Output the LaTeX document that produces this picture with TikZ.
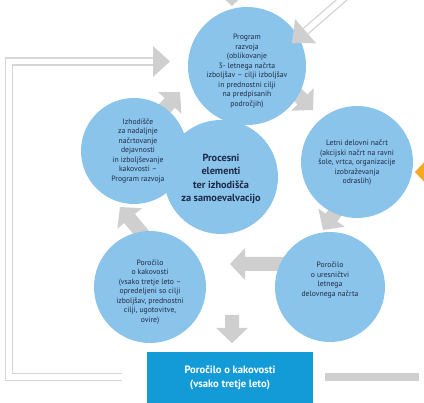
\documentclass[tikz,border=0pt]{standalone}
\usepackage{fontspec}
\setmainfont{PT Sans}
\usetikzlibrary{calc}
\definecolor{circfill}{HTML}{8BC4EA}
\definecolor{navy}{HTML}{1C2A48}
\definecolor{boxblue}{HTML}{139BD8}
\definecolor{agray}{HTML}{CFCFCF}
\definecolor{lgray}{HTML}{D6D6D6}
\definecolor{orng}{HTML}{F7A823}
% block arrow from #2 (start) to #3 (tip)
\newcommand\blkarrow[3][agray]{%
  \coordinate (#3-b) at ($(#3)!15pt!(#2)$);
  \fill[#1] ($(#2)!7pt!90:(#3)$) -- ($(#3-b)!7pt!-90:(#2)$) -- ($(#3-b)!16pt!-90:(#2)$) -- (#3)
    -- ($(#3-b)!16pt!90:(#2)$) -- ($(#3-b)!7pt!90:(#2)$) -- ($(#2)!7pt!-90:(#3)$) -- cycle;
}
\begin{document}
\begin{tikzpicture}[x=1pt,y=-1pt,
  bubble/.style={circle, fill=circfill, inner sep=0pt},
  smalltext/.style={align=center, text=navy, inner sep=0pt, font=\fontsize{7.7}{9.5}\selectfont},
  bigtext/.style={align=center, text=navy, inner sep=0pt, font=\fontsize{10.3}{13.3}\selectfont\bfseries},
  dbl/.style={draw=lgray, line width=1.4pt, double=white, double distance=5.6pt}
]
\useasboundingbox (0,0) rectangle (424,403);
\clip (0,0) rectangle (424,403);

% block arrow end points
\coordinate (a1s) at (152,122); \coordinate (a1t) at (180,92);
\coordinate (a2s) at (285,82);  \coordinate (a2t) at (313,110);
\coordinate (a3s) at (345,198); \coordinate (a3t) at (323,230);
\coordinate (a4s) at (290,264); \coordinate (a4t) at (230,264);
\coordinate (a5s) at (150,243); \coordinate (a5t) at (120,207);
\coordinate (a6s) at (232,315); \coordinate (a6t) at (232,343);
\coordinate (a7s) at (232,-40); \coordinate (a7t) at (232,6);
\coordinate (a8s) at (470,172); \coordinate (a8t) at (415,172);

\blkarrow{a1s}{a1t}
\blkarrow{a2s}{a2t}
\blkarrow{a3s}{a3t}
\blkarrow{a4s}{a4t}
\blkarrow{a5s}{a5t}
\blkarrow{a6s}{a6t}
\blkarrow{a7s}{a7t}
\blkarrow[orng]{a8s}{a8t}

% circles
\node[bubble, minimum size=118pt] (top) at (247,66) {};
\node[bubble, minimum size=112pt] (right) at (357,162) {};
\node[bubble, minimum size=110pt] (bright) at (330,287) {};
\node[bubble, minimum size=112pt] (bleft) at (150,287) {};
\node[bubble, minimum size=106pt] (left) at (134,151) {};
\node[bubble, minimum size=114pt] (center) at (221,177) {};

\node[smalltext] (toptxt) at ($(top)+(0,5)$) {Program\\razvoja\\(oblikovanje\\3- letnega načrta\\izboljšav – cilji izboljšav\\in prednostni cilji\\na predpisanih\\področjih)};
\node[smalltext] (righttxt) at ($(right)+(0,1)$) {Letni delovni načrt\\(akcijski načrt na ravni\\šole, vrtca, organizacije\\izobraževanja\\odraslih)};
\node[smalltext] (brighttxt) at ($(bright)+(0,-7)$) {Poročilo\\o uresničtvi\\letnega\\delovnega načrta};
\node[smalltext] (blefttxt) at ($(bleft)+(0,5)$) {Poročilo\\o kakovosti\\(vsako tretje leto –\\opredeljeni so cilji\\izboljšav, prednostni\\cilji, ugotovitve,\\ovire)};
\node[smalltext] (lefttxt) at ($(left)+(4,0)$) {Izhodišče\\za nadaljnje\\načrtovanje\\dejavnosti\\in izboljševanje\\kakovosti –\\Program razvoja};
\node[bigtext] (centertxt) at ($(center)+(0,2)$) {Procesni\\elementi\\ter izhodišča\\za samoevalvacijo};

% report box
\node[rectangle, fill=boxblue, minimum width=166pt, minimum height=52pt, inner sep=0pt,
  align=center, text=white, font=\fontsize{10.6}{14.5}\selectfont\bfseries] (box) at (230,378)
  {Poročilo o kakovosti\\(vsako tretje leto)};

% bar to the right
\coordinate (barend) at (419,377);
\draw[agray, line width=8pt] ($(box.east)+(12,-1)$) -- (barend);

% feedback loop (double line)
\coordinate (loopstart) at ($(box.west)+(-25,-1)$);
\coordinate (loopcorner) at (9,61.5);
\coordinate (loopend) at (153,61.5);
\coordinate (looptip) at (170,61.5);
\draw[dbl] (loopstart) -| (loopcorner) -- (loopend);
\fill[agray] ($(loopend)+(0,-15.5)$) -- (looptip) -- ($(loopend)+(0,15.5)$) -- cycle;

% incoming double arrow top right
\coordinate (trs) at (345,-3);
\coordinate (trt) at (292,43);
\coordinate (trb) at ($(trt)!18pt!(trs)$);
\draw[dbl] (trs) -- (trb);
\fill[agray] ($(trb)!16pt!90:(trt)$) -- (trt) -- ($(trb)!16pt!-90:(trt)$) -- cycle;
\end{tikzpicture}
\end{document}
